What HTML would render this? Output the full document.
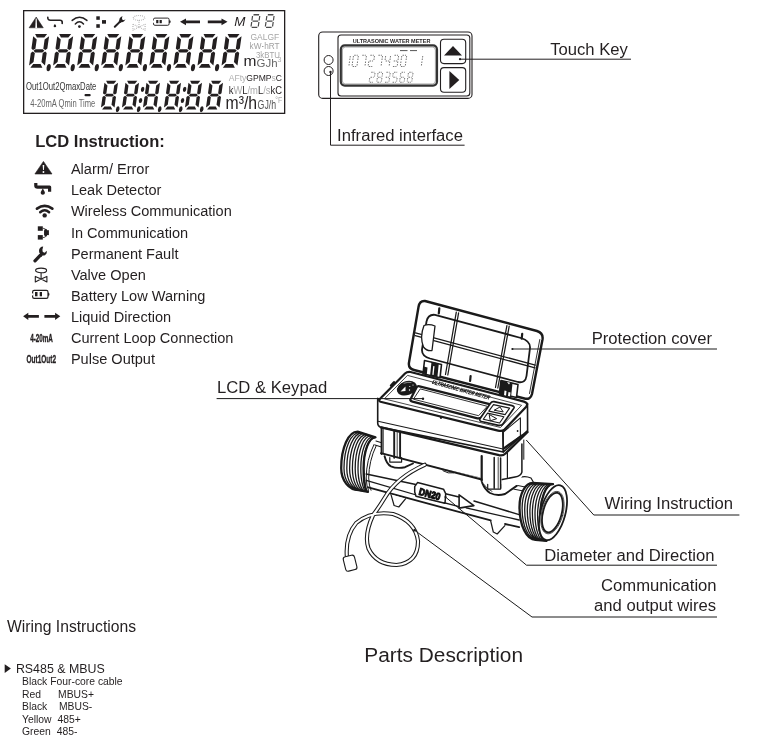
<!DOCTYPE html>
<html><head><meta charset="utf-8">
<style>
html,body{margin:0;padding:0;background:#fff;}
body{width:774px;height:745px;overflow:hidden;}
svg{display:block;will-change:transform;}
text{font-family:"Liberation Sans",sans-serif;}
</style></head><body>
<svg width="774" height="745" viewBox="0 0 774 745" fill="#231f20">
<defs>
<path id="dg" d="M2.00,0.00 L14.00,0.00 L11.70,3.60 L4.30,3.60Z M16.30,2.30 L16.30,14.60 L14.60,16.10 L12.30,14.80 L12.30,5.60Z M16.30,19.10 L16.30,31.40 L12.30,28.10 L12.30,18.90 L14.60,17.60Z M2.00,33.70 L14.00,33.70 L11.70,30.10 L4.30,30.10Z M0.40,19.10 L2.10,17.60 L4.40,18.90 L4.40,28.10 L0.40,31.40Z M0.40,2.30 L4.40,5.60 L4.40,14.80 L2.10,16.10 L0.40,14.60Z M2.80,16.85 L4.60,15.20 L11.80,15.20 L13.60,16.85 L11.80,18.50 L4.60,18.50Z"/>
<g id="warn"><path d="M8.65,0.3 L17.2,12.9 L0.1,12.9 Z" stroke-linejoin="round" stroke-width="0.6" stroke="#231f20"/><path d="M7.85,4 L9.45,4 L9.1,9 L8.2,9Z" fill="#fff"/><circle cx="8.65" cy="10.9" r="0.95" fill="#fff"/></g>
<g id="leak"><path d="M1.6,0.3 V3 Q1.6,4.4 3.4,4.4 H15.4 V9" fill="none" stroke="#231f20" stroke-width="3.2" stroke-linejoin="round"/><path d="M8.6,5.6 C9.3,7.4 10.7,8.7 10.7,10.1 C10.7,11.4 9.8,12.1 8.6,12.1 C7.4,12.1 6.5,11.4 6.5,10.1 C6.5,8.7 7.9,7.4 8.6,5.6Z"/></g>
<g id="wifi" fill="none" stroke="#231f20" stroke-linecap="round"><path d="M5.4,9.2 Q9.85,5.3 14.3,9.2" stroke-width="2.5"/><path d="M2.2,5.6 Q9.85,0.2 17.5,5.6" stroke-width="2.8"/><circle cx="9.85" cy="12.4" r="2.2" fill="#231f20" stroke="none"/></g>
<g id="comm"><rect x="0" y="0" width="5" height="4.5"/><rect x="0" y="8.8" width="5" height="4.5"/><path d="M5,2 Q9,2 9,6.65 Q9,11.3 5,11.3" fill="none" stroke="#231f20" stroke-width="0.8"/><rect x="6.3" y="3.9" width="4.8" height="4.9"/><rect x="6.7" y="2.8" width="2.3" height="7.2"/></g>
<g id="wrench"><path d="M1.4,15.4 L6.4,10.2" stroke="#231f20" stroke-width="3.3" stroke-linecap="round"/><path d="M9.6,1.2 C7.2,1.2 5.4,3 5.4,5.4 C5.4,6.6 5.7,7.6 6.4,8.4 L5.2,9.8 L7.8,11.6 L9,10.2 C11.6,10.4 13.2,8.8 13.2,6.6 L13.0,5.4 L11.2,7.4 L9.2,6.6 L8.8,4.4 Z"/></g>
<g id="valve" fill="none" stroke="#231f20" stroke-width="1.1"><ellipse cx="6.3" cy="2.6" rx="5.5" ry="2.3"/><path d="M6.3,4.9 V11.3"/><path d="M0.5,8.6 L0.5,14.2 L6.3,11.3 L12.1,14.2 L12.1,8.6 L6.3,11.3Z" stroke-linejoin="round"/></g>
<g id="batt"><rect x="0.6" y="0.6" width="15.4" height="8" rx="1.6" fill="none" stroke="#231f20" stroke-width="1.2"/><rect x="-0.2" y="3.6" width="1.6" height="2" fill="#fff"/><path d="M16,2.8 L17.4,3.6 L17.4,5.4 L16,6.2Z"/><rect x="3" y="2.2" width="2.5" height="4.3"/><rect x="7.7" y="2.2" width="2.3" height="4.3"/></g>
<g id="arrows"><path d="M0,3.5 L5.2,0 L5.2,2.2 L15.8,2.2 L15.8,4.9 L5.2,4.9 L5.2,7.1Z"/><path d="M37.2,3.5 L32,0 L32,2.2 L21.3,2.2 L21.3,4.9 L32,4.9 L32,7.1Z"/></g>
</defs>

<!-- ============ LCD PANEL ============ -->
<g id="lcd">
<rect x="23.65" y="10.65" width="261" height="102.7" fill="none" stroke="#231f20" stroke-width="1.3"/>
<g fill="#231f20">
<g transform="translate(33.10,34) skewX(-8)"><use href="#dg"/><ellipse cx="20.3" cy="33.6" rx="2.05" ry="3.6"/></g>
<g transform="translate(57.16,34) skewX(-8)"><use href="#dg"/><ellipse cx="20.3" cy="33.6" rx="2.05" ry="3.6"/></g>
<g transform="translate(81.22,34) skewX(-8)"><use href="#dg"/><ellipse cx="20.3" cy="33.6" rx="2.05" ry="3.6"/></g>
<g transform="translate(105.28,34) skewX(-8)"><use href="#dg"/><ellipse cx="20.3" cy="33.6" rx="2.05" ry="3.6"/></g>
<g transform="translate(129.34,34) skewX(-8)"><use href="#dg"/><ellipse cx="20.3" cy="33.6" rx="2.05" ry="3.6"/></g>
<g transform="translate(153.40,34) skewX(-8)"><use href="#dg"/><ellipse cx="20.3" cy="33.6" rx="2.05" ry="3.6"/></g>
<g transform="translate(177.46,34) skewX(-8)"><use href="#dg"/><ellipse cx="20.3" cy="33.6" rx="2.05" ry="3.6"/></g>
<g transform="translate(201.52,34) skewX(-8)"><use href="#dg"/><ellipse cx="20.3" cy="33.6" rx="2.05" ry="3.6"/></g>
<g transform="translate(225.58,34) skewX(-8)"><use href="#dg"/></g>
<g transform="translate(104.40,80.8) skewX(-8) scale(0.852)"><use href="#dg"/><ellipse cx="20.3" cy="33.4" rx="2.0" ry="3.4"/></g>
<g transform="translate(125.40,80.8) skewX(-8) scale(0.852)"><use href="#dg"/><ellipse cx="20.3" cy="33.4" rx="2.0" ry="3.4"/><ellipse cx="21.6" cy="10" rx="2.0" ry="3.0"/><ellipse cx="21.0" cy="23.2" rx="2.0" ry="3.0"/></g>
<g transform="translate(146.40,80.8) skewX(-8) scale(0.852)"><use href="#dg"/><ellipse cx="20.3" cy="33.4" rx="2.0" ry="3.4"/></g>
<g transform="translate(167.40,80.8) skewX(-8) scale(0.852)"><use href="#dg"/><ellipse cx="20.3" cy="33.4" rx="2.0" ry="3.4"/><ellipse cx="21.6" cy="10" rx="2.0" ry="3.0"/><ellipse cx="21.0" cy="23.2" rx="2.0" ry="3.0"/></g>
<g transform="translate(188.40,80.8) skewX(-8) scale(0.852)"><use href="#dg"/><ellipse cx="20.3" cy="33.4" rx="2.0" ry="3.4"/></g>
<g transform="translate(209.40,80.8) skewX(-8) scale(0.852)"><use href="#dg"/></g>
</g>
<!-- top icons -->
<path d="M36.2,17 L43.3,27.8 L29.1,27.8 Z" stroke="#231f20" stroke-width="0.5" stroke-linejoin="round"/>
<path d="M35.7,18.6 L36.7,18.6 L37.1,27.9 L35.3,27.9Z" fill="#fff"/>
<g fill="none" stroke="#231f20" stroke-width="1.6" stroke-linecap="round"><path d="M47.8,17.4 Q47.6,20.2 50.5,20.2 L60,20.2 Q62.2,20.2 62.2,22.2 L62.2,23.4"/></g>
<path d="M54.9,23.9 Q56.2,25.4 56.2,26.2 Q56.2,27.2 54.9,27.2 Q53.6,27.2 53.6,26.2 Q53.6,25.4 54.9,23.9Z"/>
<g fill="none" stroke="#231f20" stroke-width="1.5" stroke-linecap="round"><path d="M72.2,20.4 Q79.5,14 86.9,20.4"/><path d="M75.3,23.9 Q79.5,19.6 83.5,23.9"/></g>
<circle cx="79.4" cy="26.6" r="1.4"/>
<rect x="96.3" y="16.3" width="3.5" height="3.5"/><rect x="96.3" y="24.2" width="3.5" height="3.6"/><rect x="102" y="20.1" width="4" height="3.6"/>
<path d="M114.8,26.8 L120.3,21.4" stroke="#231f20" stroke-width="2" stroke-linecap="round"/>
<path d="M122.6,16.2 C120.6,16.6 119.2,18.2 119.3,20.2 L118.6,21.3 L120.3,22.9 L121.3,22.3 C123.3,22.5 125,21 125.4,19.1 L124.1,20.2 L122.4,19.8 L121.9,18 Z"/>
<g transform="translate(132.4,15.2) scale(1.05)" opacity="0.35" stroke-dasharray="0.8,1"><use href="#valve"/></g>
<g transform="translate(153,17.6)"><rect x="0.5" y="0.5" width="15.6" height="7.2" rx="1.4" fill="none" stroke="#231f20" stroke-width="0.95"/><rect x="-0.2" y="2.8" width="1.4" height="2.4" fill="#fff"/><path d="M16.1,2.6 L17.6,3.2 L17.6,5 L16.1,5.6Z"/><rect x="3.2" y="2.4" width="2.2" height="3.2"/><rect x="6.6" y="2.4" width="2.2" height="3.2"/></g>
<g transform="translate(180,18.4)"><path d="M0,3.4 L6,0 L6,2 L20,2 L20,4.8 L6,4.8 L6,6.8Z"/><path d="M47.5,3.4 L41.5,0 L41.5,2 L27.8,2 L27.8,4.8 L41.5,4.8 L41.5,6.8Z"/></g>
<text x="234.2" y="26" font-size="13.4" font-style="italic">M</text>
<g fill="none" stroke="#4a4a4a">
<g transform="translate(252.3,14.1) skewX(-8)"><path d="M1.3,0.7 H6.9" stroke-width="1.5"/><path d="M0.5,1.8 V6.3 M7.7,1.8 V6.3 M1.3,7.05 H6.9 M0.5,7.8 V12.4 M7.7,7.8 V12.4 M1.3,13.3 H6.9" stroke-width="1.2"/></g>
<g transform="translate(266.6,14.1) skewX(-8)"><path d="M1.3,0.7 H6.9" stroke-width="1.5"/><path d="M0.5,1.8 V6.3 M7.7,1.8 V6.3 M1.3,7.05 H6.9 M0.5,7.8 V12.4 M7.7,7.8 V12.4 M1.3,13.3 H6.9" stroke-width="1.2"/></g>
</g>
<!-- right unit labels top -->
<text x="250.4" y="40.3" font-size="8.3" fill="#a5a5a5" textLength="28.8" lengthAdjust="spacingAndGlyphs">GALGF</text>
<text x="249.6" y="49" font-size="8.3" fill="#a0a0a0" textLength="30" lengthAdjust="spacingAndGlyphs">kW<tspan fill="#444">·</tspan>hRT</text>
<text x="256" y="57.7" font-size="8.3" fill="#a5a5a5" textLength="24" lengthAdjust="spacingAndGlyphs">3kBTU</text>
<text x="256.6" y="66.8" font-size="10.7" fill="#666" textLength="21" lengthAdjust="spacingAndGlyphs">GJh</text>
<text x="277.5" y="62" font-size="7" fill="#aaa">3</text>
<text x="243.5" y="66.1" font-size="15.5">m</text>
<!-- left labels bottom -->
<text x="26" y="90" font-size="11" fill="#333" textLength="70.4" lengthAdjust="spacingAndGlyphs">Out1Out2QmaxDate</text>
<rect x="84.5" y="94.1" width="6.2" height="2.1" rx="1"/>
<text x="30.3" y="107" font-size="11" fill="#666" textLength="65" lengthAdjust="spacingAndGlyphs">4-20mA Qmin Time</text>
<!-- right labels bottom -->
<text x="228.7" y="81" font-size="9.8" fill="#b0b0b0" textLength="53.3" lengthAdjust="spacingAndGlyphs">AFty<tspan fill="#231f20">GPMP</tspan>s<tspan fill="#231f20">C</tspan></text>
<text x="228.7" y="93.6" font-size="11.8" fill="#aaa" textLength="53.3" lengthAdjust="spacingAndGlyphs"><tspan fill="#231f20">k</tspan>W<tspan fill="#231f20">L</tspan>/m<tspan fill="#231f20">L</tspan>/s<tspan fill="#231f20">kC</tspan></text>
<text x="225.6" y="109.4" font-size="18.5" fill="#231f20" textLength="31.5" lengthAdjust="spacingAndGlyphs">m³/h</text>
<text x="257.6" y="109.4" font-size="13.5" fill="#555" textLength="18.5" lengthAdjust="spacingAndGlyphs">GJ/h</text>
<text x="275.3" y="103" font-size="8.5" fill="#aaa" textLength="7" lengthAdjust="spacingAndGlyphs">°F</text>
</g>

<!-- ============ METER FACE (top right) ============ -->
<g id="face" fill="none" stroke="#231f20">
<rect x="318.7" y="32" width="153.3" height="66.4" rx="4" stroke-width="1.1"/>
<rect x="338" y="35" width="131.8" height="61" rx="3" stroke-width="1.1"/>
<rect x="340.8" y="45.4" width="96.2" height="40.2" rx="4" stroke-width="2.2" stroke="#333"/>
<rect x="342.4" y="47" width="93" height="37" rx="3" stroke-width="0.6" stroke="#666"/>
<circle cx="328.6" cy="60" r="4.5" stroke-width="1"/>
<circle cx="328.6" cy="71" r="4.5" stroke-width="1"/>
<rect x="440.5" y="39.2" width="25.2" height="24.4" rx="3.5" stroke-width="1.1"/>
<rect x="440.5" y="67.6" width="25.2" height="24.7" rx="3.5" stroke-width="1.1"/>
</g>
<path d="M444,55.5 L462,55.5 L453,46Z" fill="#231f20"/>
<path d="M449.4,71 L449.4,89 L459.3,80Z" fill="#231f20"/>
<text x="352.8" y="43.1" font-size="6.2" font-weight="bold" textLength="77.6" lengthAdjust="spacingAndGlyphs">ULTRASONIC  WATER METER</text>
<g fill="none" stroke="#777" stroke-width="1" stroke-dasharray="1.5,0.9">
<path transform="translate(345.50,55.3) skewX(-8)" d="M4.90,0.70 L4.90,4.90 M4.90,6.30 L4.90,10.50"/>
<path transform="translate(353.55,55.3) skewX(-8)" d="M0.70,0.00 L4.20,0.00 M4.90,0.70 L4.90,4.90 M4.90,6.30 L4.90,10.50 M0.70,11.20 L4.20,11.20 M0.00,6.30 L0.00,10.50 M0.00,0.70 L0.00,4.90"/>
<path transform="translate(361.60,55.3) skewX(-8)" d="M0.70,0.00 L4.20,0.00 M4.90,0.70 L4.90,4.90 M4.90,6.30 L4.90,10.50"/>
<path transform="translate(369.65,55.3) skewX(-8)" d="M0.70,0.00 L4.20,0.00 M4.90,0.70 L4.90,4.90 M0.70,11.20 L4.20,11.20 M0.00,6.30 L0.00,10.50 M0.70,5.60 L4.20,5.60"/>
<path transform="translate(377.70,55.3) skewX(-8)" d="M0.70,0.00 L4.20,0.00 M4.90,0.70 L4.90,4.90 M4.90,6.30 L4.90,10.50"/>
<path transform="translate(385.75,55.3) skewX(-8)" d="M4.90,0.70 L4.90,4.90 M4.90,6.30 L4.90,10.50 M0.00,0.70 L0.00,4.90 M0.70,5.60 L4.20,5.60"/>
<path transform="translate(393.80,55.3) skewX(-8)" d="M0.70,0.00 L4.20,0.00 M4.90,0.70 L4.90,4.90 M4.90,6.30 L4.90,10.50 M0.70,11.20 L4.20,11.20 M0.70,5.60 L4.20,5.60"/>
<path transform="translate(401.85,55.3) skewX(-8)" d="M0.70,0.00 L4.20,0.00 M4.90,0.70 L4.90,4.90 M4.90,6.30 L4.90,10.50 M0.70,11.20 L4.20,11.20 M0.00,6.30 L0.00,10.50 M0.00,0.70 L0.00,4.90"/>
<path transform="translate(417.95,55.3) skewX(-8)" d="M4.90,0.70 L4.90,4.90 M4.90,6.30 L4.90,10.50"/>
<path transform="translate(370.50,72.3) skewX(-8)" d="M0.70,0.00 L3.90,0.00 M4.60,0.70 L4.60,4.30 M0.70,10.00 L3.90,10.00 M0.00,5.70 L0.00,9.30 M0.70,5.00 L3.90,5.00"/>
<path transform="translate(378.10,72.3) skewX(-8)" d="M0.70,0.00 L3.90,0.00 M4.60,0.70 L4.60,4.30 M4.60,5.70 L4.60,9.30 M0.70,10.00 L3.90,10.00 M0.00,5.70 L0.00,9.30 M0.00,0.70 L0.00,4.30 M0.70,5.00 L3.90,5.00"/>
<path transform="translate(385.70,72.3) skewX(-8)" d="M0.70,0.00 L3.90,0.00 M4.60,0.70 L4.60,4.30 M4.60,5.70 L4.60,9.30 M0.70,10.00 L3.90,10.00 M0.70,5.00 L3.90,5.00"/>
<path transform="translate(393.30,72.3) skewX(-8)" d="M0.70,0.00 L3.90,0.00 M4.60,5.70 L4.60,9.30 M0.70,10.00 L3.90,10.00 M0.00,0.70 L0.00,4.30 M0.70,5.00 L3.90,5.00"/>
<path transform="translate(400.90,72.3) skewX(-8)" d="M0.70,0.00 L3.90,0.00 M4.60,5.70 L4.60,9.30 M0.70,10.00 L3.90,10.00 M0.00,5.70 L0.00,9.30 M0.00,0.70 L0.00,4.30 M0.70,5.00 L3.90,5.00"/>
<path transform="translate(408.50,72.3) skewX(-8)" d="M0.70,0.00 L3.90,0.00 M4.60,0.70 L4.60,4.30 M4.60,5.70 L4.60,9.30 M0.70,10.00 L3.90,10.00 M0.00,5.70 L0.00,9.30 M0.00,0.70 L0.00,4.30 M0.70,5.00 L3.90,5.00"/>

</g>

<path d="M400,50.6 H407.5 M410,50.6 H417" stroke="#555" stroke-width="1"/>
<!-- leaders -->
<g fill="none" stroke="#231f20" stroke-width="1">
<path d="M460,59.2 H631"/>
<path d="M330.5,72 V145.2 H464.6"/>
</g>
<circle cx="460" cy="59.2" r="1.1" fill="#231f20"/>
<circle cx="330.5" cy="72" r="1.2" fill="#231f20"/>

<!-- ============ TEXT LABELS ============ -->
<g font-size="16.65">
<text x="550.2" y="55">Touch Key</text>
<text x="337.1" y="141">Infrared interface</text>
<text x="591.7" y="344.3">Protection cover</text>
<text x="217.1" y="392.6">LCD &amp; Keypad</text>
<text x="604.5" y="508.6">Wiring Instruction</text>
<text x="544.3" y="561">Diameter and Direction</text>
<text x="601" y="591">Communication</text>
<text x="594" y="610.5">and output wires</text>
</g>
<text x="35.2" y="146.6" font-size="16" font-weight="bold" textLength="129.6" lengthAdjust="spacingAndGlyphs">LCD Instruction:</text>

<!-- LCD instruction list -->
<g font-size="14.55">
<text x="70.9" y="174.1">Alarm/ Error</text>
<text x="70.9" y="195.1">Leak Detector</text>
<text x="70.9" y="216.2">Wireless Communication</text>
<text x="70.9" y="237.6">In Communication</text>
<text x="70.9" y="258.8">Permanent Fault</text>
<text x="70.9" y="279.8">Valve Open</text>
<text x="70.9" y="301">Battery Low Warning</text>
<text x="70.9" y="322.3">Liquid Direction</text>
<text x="70.9" y="343.3">Current Loop Connection</text>
<text x="70.9" y="363.8">Pulse Output</text>
</g>
<use href="#warn" transform="translate(34.8,161.1)"/>
<use href="#leak" transform="translate(34.2,182.7)"/>
<use href="#wifi" transform="translate(34.8,203)"/>
<use href="#comm" transform="translate(37.8,226.3)"/>
<use href="#wrench" transform="translate(33.6,245.4)"/>
<use href="#valve" transform="translate(34.8,267.8)"/>
<use href="#batt" transform="translate(32,289.8)"/>
<use href="#arrows" transform="translate(23.1,312.8)"/>
<text font-size="10.5" font-weight="bold" stroke="#231f20" stroke-width="0.35" transform="translate(30.2,341.8) scale(0.6,1)">4-20mA</text>
<text font-size="11.5" font-weight="bold" stroke="#231f20" stroke-width="0.35" transform="translate(26.5,362.8) scale(0.565,1)">Out1Out2</text>

<!-- ============ METER DRAWING ============ -->
<g id="meter" fill="none" stroke="#1a1a1a" stroke-linejoin="round" stroke-linecap="round">
<path d="M425,301 L537,331 Q543.5,333 542.5,339.5 L532,394 Q530.5,400 524.5,398.5 L414,370 Q408,368.5 409,362.5 L418.5,307 Q419.5,300.5 425,301 Z" fill="#fff" stroke-width="2.4"/>
<path d="M539.8,339.5 L529.5,393.5" stroke-width="0.9"/>
<path d="M435,314.8 L521,338 Q530.5,341 530,348 L526.5,376 Q525.5,383.5 518,382 L430,358.5 Q421.5,356 422,349.5 L426.5,321.5 Q428,314 435,314.8 Z" stroke-width="1.8"/>
<path d="M456.3,312.2 L445.5,374.5 M458.6,312.8 L447.8,375" stroke-width="1.25"/>
<path d="M506.9,325.6 L495.5,387.5 M509.2,326.2 L497.8,388" stroke-width="1.25"/>
<path d="M415.5,332.9 L535.3,365.1 M415.2,335.6 L535,367.8" stroke-width="1.3"/>
<path d="M424,325.5 Q429,323.5 435,326 L432,350.5 Q427,351.5 423.5,347 Q419.5,337 424,325.5Z" fill="#fff" stroke-width="1.3"/>
<path d="M439.3,308.4 L438.8,313.5 M522.2,333.8 L521.7,338.6 M470.6,376 L470.1,381" stroke-width="2.2"/>
<g stroke-width="1.6" fill="#fff">
<path d="M424.5,360.5 L441.5,364.5 L440,377.8 L423,373.8Z"/>
<path d="M501,380.5 L518,384.5 L516.5,397.5 L499.5,393.5Z"/>
</g>
<g fill="#1a1a1a" stroke="none">
<path d="M431.5,361.8 L438.8,363.6 L437.3,378 L430,376.3Z"/>
<path d="M423.8,366.5 L427.5,367.5 L426.8,374.5 L423,373.6Z"/>
<path d="M500.5,380.6 L512.5,383.4 L511,397.2 L499,394.4Z"/>
</g>
<g fill="#fff" stroke="none">
<path d="M433.2,366 L434.5,366.3 L433.6,375 L432.3,374.7Z"/>
<path d="M504.5,390.5 L506.5,391 L506,396 L504,395.5Z M508.5,392 L510.5,392.5 L510,396.5 L508,396Z"/>
<path d="M507,382 L510,382.8 L509,384.5Z"/>
</g>
<path d="M376,441 L384,443.5 M375,445 L383,447.5" stroke-width="1.1"/>
<path d="M501,482 L530,488 M500,486.5 L528.5,492" stroke-width="1.1"/>
<path d="M515,481 Q522,474 531,478 L535,485" stroke-width="1.2" fill="#fff"/>
<path d="M414,461 L482,477.5" stroke-width="1.2"/>
<path d="M366.2,474 L415.8,484.6 M445.5,493.8 L459,497 M474,501 L519.1,514.6" stroke-width="1.5"/>
<path d="M366.2,480.4 L430,499 L459,506.6 M466,507.8 L519.1,520" stroke-width="1.3"/>
<path d="M368.3,487.4 L430,504.2 L490.7,520.4 M505,524 L519.1,527.2" stroke-width="1.8"/>
<path d="M391,494.6 L394.1,505.5 L398.8,507 L405.5,498.8" stroke-width="1.2" fill="#fff"/>
<path d="M490.7,521 L493.3,532 L497.2,534 L504.9,525.6" stroke-width="1.2" fill="#fff"/>
<path d="M417.5,482.6 L443.5,489.2 L445.7,493.7 L445,503.2 L416,496.3 L414.7,492 L414.7,486.6 Z" fill="#fff" stroke-width="1.5"/>
<text transform="translate(418.2,494.6) rotate(15)" font-size="9.8" font-weight="bold" fill="#111" stroke="#111" stroke-width="1.1" stroke-linejoin="round" textLength="22" lengthAdjust="spacingAndGlyphs">DN20</text>
<path d="M459.1,494.8 L473.9,505.6 L459.1,508.1 Z" fill="#fff" stroke-width="1.6"/>
<path d="M357.6,431.6 C348.4,431.6 341.2,447.7 341.2,468.3 C341.2,480.6 348.9,490.2 358.6,490.2 L368.0,491.8 C365.5,491.8 363.6,481.5 363.6,468.5 C363.6,451.0 368.8,437.3 375.5,437.3 Z" fill="#fff" stroke-width="2.3"/>
<path d="M359.8,432.3 C351.0,432.3 344.0,448.2 344.0,468.3 C344.0,480.7 350.9,490.4 359.8,490.4 M362.1,433.0 C353.5,433.0 346.8,448.6 346.8,468.4 C346.8,480.8 353.0,490.6 361.0,490.6 M364.3,433.7 C356.1,433.7 349.6,449.0 349.6,468.4 C349.6,480.9 355.1,490.8 362.1,490.8 M366.6,434.5 C358.6,434.5 352.4,449.4 352.4,468.4 C352.4,481.1 357.2,491.0 363.3,491.0 M368.8,435.2 C361.2,435.2 355.2,449.8 355.2,468.4 C355.2,481.2 359.3,491.2 364.5,491.2 M371.0,435.9 C363.7,435.9 358.0,450.2 358.0,468.4 C358.0,481.3 361.4,491.4 365.6,491.4 M373.3,436.6 C366.3,436.6 360.8,450.6 360.8,468.5 C360.8,481.4 363.5,491.6 366.8,491.6 M375.5,437.3 C368.8,437.3 363.6,451.0 363.6,468.5 C363.6,481.5 365.5,491.8 368.0,491.8" stroke-width="1.3"/>
<path d="M374,444.5 Q366.3,460 366.2,478 Q366.5,486 368.5,490.5 M376.3,445.5 Q368.8,461 368.7,478 Q369,486 371,490.3" stroke-width="1"/>
<path d="M532.7,483.0 C525.3,483.0 519.5,493.6 519.5,507.0 C519.5,525.4 526.5,539.8 535.5,539.8 L546.5,540.8 C543.0,540.8 540.2,530.1 540.2,516.4 C540.2,498.4 545.8,484.2 553.0,484.2 Z" fill="#fff" stroke-width="2.3"/>
<path d="M535.2,483.1 C527.9,483.1 522.1,494.2 522.1,508.2 C522.1,526.0 528.6,539.9 536.9,539.9 M537.8,483.3 C530.4,483.3 524.7,494.8 524.7,509.4 C524.7,526.5 530.6,540.0 538.2,540.0 M540.3,483.4 C533.0,483.4 527.3,495.4 527.3,510.5 C527.3,527.1 532.7,540.2 539.6,540.2 M542.9,483.6 C535.6,483.6 529.9,496.0 529.9,511.7 C529.9,527.7 534.8,540.3 541.0,540.3 M545.4,483.8 C538.1,483.8 532.4,496.6 532.4,512.9 C532.4,528.3 536.8,540.4 542.4,540.4 M547.9,483.9 C540.7,483.9 535.0,497.2 535.0,514.0 C535.0,528.9 538.9,540.5 543.8,540.5 M550.5,484.1 C543.3,484.1 537.6,497.8 537.6,515.2 C537.6,529.5 540.9,540.7 545.1,540.7 M553.0,484.2 C545.8,484.2 540.2,498.4 540.2,516.4 C540.2,530.1 543.0,540.8 546.5,540.8" stroke-width="1.3"/>
<ellipse cx="553" cy="512.6" rx="12.4" ry="28.3" transform="rotate(15 553 512.6)" fill="#fff" stroke-width="1.8"/>
<ellipse cx="552.4" cy="512.6" rx="9.3" ry="20.3" transform="rotate(15 552.4 512.6)" stroke-width="1.8"/>
<ellipse cx="552.5" cy="512.6" rx="10.6" ry="21.8" transform="rotate(15 552.5 512.6)" stroke-width="0.7"/>
<path d="M381.2,426 L381.2,456 Q384,468 397,468.8 Q410,469.5 414.5,462 L480.4,477.5 L480.4,482 Q484,492 496,495 Q511,494 517,486 L522.3,476 L525,436 Z" fill="#fff" stroke="none"/>
<path d="M381.6,428 L381.6,454" stroke-width="2"/>
<path d="M383.3,429 L383.3,454" stroke-width="0.8"/>
<path d="M394.2,431.5 L394.2,457.7 M400.1,433 L400.1,457.7" stroke-width="1.9"/>
<path d="M397.2,432.5 L397.2,457.7" stroke-width="0.8"/>
<path d="M381,453.2 L481.7,479.5" stroke-width="1.9"/>
<path d="M481.7,456 L481.7,481" stroke-width="2.2"/>
<path d="M494.2,457.5 L494.2,488.3 M500.6,458 L500.6,488.3" stroke-width="1.5"/>
<path d="M498.2,457.5 L498.2,488.3" stroke-width="0.8"/>
<path d="M507.4,453 L507.4,477.6" stroke-width="1.2"/>
<path d="M521.9,444 L521.9,472.2 Q521,476 515,477 L502.2,479.5" stroke-width="1.5"/>
<path d="M523.8,440 L523.8,459.3" stroke-width="1"/>
<path d="M384.6,456.2 Q386.5,464 391,466.3 Q397,469 405,467.2 L413,463.5" stroke-width="1.9"/>
<path d="M389.8,457.7 L389.8,462.1 L401.6,462.1 L401.6,457.7" stroke-width="1.2"/>
<path d="M482.1,482.7 Q485,490 490,493 Q497,496.5 505,494 L516.7,485.9" stroke-width="1.9"/>
<path d="M484,484.5 Q487,489.5 492,491.4" stroke-width="0.8"/>
<path d="M487.7,484.3 L487.7,489.1 L500.6,489.1 L500.6,484.3" stroke-width="1.2"/>
<path d="M443,470.8 Q448,474 453.6,472.9" stroke-width="1"/>
<path d="M377.7,398.4 L503,430.8 L503.4,452 L381.2,427.4 Q377.7,426.5 377.7,423 Z" fill="#fff" stroke-width="1.6"/>
<path d="M503,430.8 L527.5,403.5 L527.6,430.6 L503.4,452 Z" fill="#fff" stroke-width="1.6"/>
<path d="M378,421.3 L503,449" stroke-width="1.1"/>
<path d="M381.2,427.4 L499,455.2 Q503,456 505.5,453.5 L527.6,432" stroke-width="2.3"/>
<path d="M440,413.8 L441,418" stroke-width="2"/>
<path d="M503.4,432 L520.4,417.8 L520.4,436 L503.4,449.5 Z" fill="#fff" stroke-width="1.1"/>
<path d="M504.8,447.6 L522.3,435.3" stroke-width="2.2"/>
<circle cx="517.6" cy="431" r="0.9" fill="#1a1a1a" stroke="none"/>
<path d="M381,397.8 L405,373.6 Q407,371.6 410.5,372 L524,401.6 Q529,403.2 526,407 L504,430 Q502,431.5 498,430.6 L380.5,401.8 Q377.5,400.5 381,397.8Z" fill="#fff" stroke-width="2.2"/>
<path d="M384.6,398.6 L407.5,375.4 L521.6,405.3 L500.8,427.2 Z" stroke-width="0.8"/>
<path d="M391,385.5 L394,382.2" stroke-width="2.4"/>
<ellipse cx="406.9" cy="388.2" rx="10.3" ry="7" transform="rotate(-18 406.9 388.2)" fill="#1a1a1a" stroke="none"/>
<path d="M400.5,391.5 L405.5,386.5 L405.5,391 Z" fill="#fff" stroke="none"/>
<circle cx="409.5" cy="390" r="0.7" fill="#fff" stroke="none"/><circle cx="409.8" cy="386.5" r="0.6" fill="#fff" stroke="none"/><circle cx="413" cy="385" r="0.6" fill="#fff" stroke="none"/>
<path d="M404,383.2 Q408,381.8 411,382.4" stroke="#fff" stroke-width="0.5"/>
<path d="M419.5,386.3 L489.5,404.2 Q492.5,405.2 490.5,407.6 L481.5,417.4 Q479.5,419 476.5,418.2 L412.5,401.6 Q409,400.6 411,398.2 L416.5,387.4 Q417.5,385.8 419.5,386.3Z" fill="#fff" stroke-width="2.3"/>
<path d="M420.6,389 L487.3,406.3 L478.6,415.7 L413.8,399.3 Z" stroke-width="0.9"/>
<text x="0" y="0" transform="translate(431.3,383.6) rotate(15.6) skewX(-20)" font-size="5.8" font-weight="bold" fill="#111" stroke="#111" stroke-width="0.15" textLength="59.5" lengthAdjust="spacingAndGlyphs">ULTRASONIC WATER METER</text>
<circle cx="423" cy="398.7" r="1.2" fill="#1a1a1a" stroke="none"/>
<path d="M494,401.6 L512,405.6 Q515.5,406.6 513.3,409 L503.3,423.5 Q501.5,426 498.5,425.3 L481.5,421.5 Q478.5,420.5 480.5,418 L490.5,403.2 Q491.8,401.2 494,401.6Z" fill="#fff" stroke-width="1.7"/>
<path d="M493.5,404.6 L509.6,408.1 L505.1,414.6 L488.8,411.1Z" stroke-width="1.1"/>
<path d="M487.6,413.1 L503.9,416.8 L499.6,423 L483.3,419.3Z" stroke-width="1.1"/>
<path d="M494.5,410.3 L503.2,411.9 L500.2,407.3Z" stroke-width="1"/>
<path d="M489.2,414.8 L490.3,420.8 L496.3,418.8Z" stroke-width="1"/>
<path d="M424.7,464.8 Q396.5,477.5 384.6,498.0 Q378.5,508.0 373.1,515.0 Q363.8,535.0 368.5,548.5 Q376.0,564.5 396.5,565.0 Q418.2,562.5 418.0,541.0 Q415.5,521.5 393.0,514.0 Q371.0,510.5 356.2,523.0 Q345.6,535.5 346.8,555.5" stroke-width="4.2"/>
<path d="M424.7,464.8 Q396.5,477.5 384.6,498.0 Q378.5,508.0 373.1,515.0 Q363.8,535.0 368.5,548.5 Q376.0,564.5 396.5,565.0 Q418.2,562.5 418.0,541.0 Q415.5,521.5 393.0,514.0 Q371.0,510.5 356.2,523.0 Q345.6,535.5 346.8,555.5" stroke="#fff" stroke-width="2.1"/>

<rect x="344.3" y="555.8" width="11.5" height="14.8" rx="2.5" transform="rotate(-14 350 563)" fill="#fff" stroke-width="1.1"/>
<g stroke="#1a1a1a" stroke-width="1">
<path d="M217,398.6 H423"/>
<path d="M512.4,349 H716.6"/>
<path d="M526.5,440.3 L593.8,515 H739"/>
<path d="M445.5,497 L526.5,565.2 H716.6"/>
<path d="M414.5,530.2 L532,617 H716.6"/>
</g>
<circle cx="512.4" cy="349" r="1.1" fill="#1a1a1a" stroke="none"/>
<circle cx="414.5" cy="530.2" r="1.3" fill="#1a1a1a" stroke="none"/>
<circle cx="445.5" cy="497" r="1.1" fill="#1a1a1a" stroke="none"/>
</g>

<!-- ============ BOTTOM TEXT ============ -->
<text x="364.3" y="661.5" font-size="20.85">Parts Description</text>
<text x="7" y="631.5" font-size="15.7">Wiring Instructions</text>
<path d="M4.7,664.3 L10.9,668.6 L4.7,672.9Z" fill="#231f20"/>
<text x="15.9" y="672.9" font-size="12.4">RS485 &amp; MBUS</text>
<g font-size="10.35">
<text x="22" y="685.3">Black Four-core cable</text>
<text x="22" y="697.7">Red</text><text x="58.1" y="697.7">MBUS+</text>
<text x="22" y="709.8">Black</text><text x="58.9" y="709.8">MBUS-</text>
<text x="22" y="722.7">Yellow</text><text x="57.4" y="722.7">485+</text>
<text x="22" y="734.9">Green</text><text x="56.8" y="734.9">485-</text>
</g>
</svg>
</body></html>
